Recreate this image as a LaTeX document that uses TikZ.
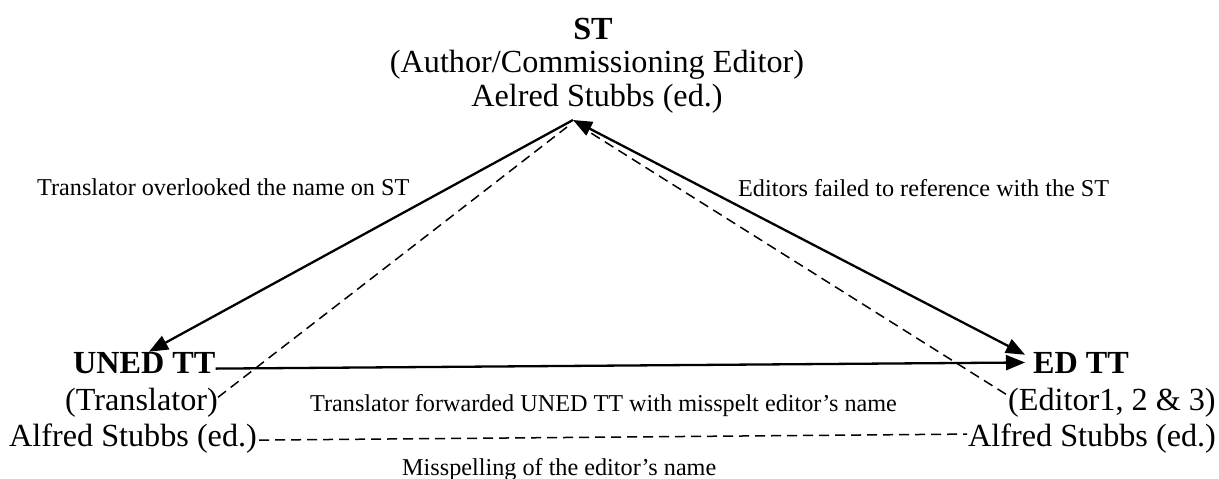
\documentclass[tikz,border=0pt]{standalone}
\usepackage{fontspec}
\setmainfont{Liberation Serif}
\usetikzlibrary{arrows.meta,calc}
\begin{document}
\begin{tikzpicture}[x=1pt,y=-1pt,
  >={Triangle[length=19pt,width=15pt]},
  big/.style={font=\fontsize{32.2}{36}\selectfont, inner sep=0pt, anchor=base},
  bigb/.style={big, font=\fontsize{32.2}{36}\selectfont\bfseries},
  note/.style={font=\fontsize{24.2}{28}\selectfont, inner sep=0pt, anchor=base west},
  link/.style={line width=2.3pt},
  hint/.style={line width=1.5pt, dash pattern=on 10pt off 6pt},
]
\useasboundingbox (0,0) rectangle (1219,479);

% source text
\node[bigb] (st) at (593,39) {ST};
\node[big] (strole) at (597,72) {(Author/Commissioning Editor)};
\node[big] (stname) at (597,106) {Aelred Stubbs (ed.)};
\coordinate (apex) at (573,120);

% unedited translation
\node[bigb,anchor=base west] (uned) at (73,373) {UNED TT};
\node[big,anchor=base west] (unedrole) at (65,410) {(Translator)};
\node[big,anchor=base west] (unedname) at (9,446) {Alfred Stubbs (ed.)};

% edited translation
\node[bigb,anchor=base west] (edtt) at (1033,373) {ED TT};
\node[big,anchor=base west] (edrole) at (1008,410) {(Editor1, 2 \& 3)};
\node[big,anchor=base west] (edname) at (968,446) {Alfred Stubbs (ed.)};

% edge notes
\node[note] (n1) at (37,195) {Translator overlooked the name on ST};
\node[note] (n2) at (738,196) {Editors failed to reference with the ST};
\node[note] (n3) at (310,411) {Translator forwarded UNED TT with misspelt editor’s name};
\node[note] (n4) at (402,475) {Misspelling of the editor’s name};

% solid flows
\draw[link,->] (apex) -- ($(uned.north west)+(76,0)$);
\draw[link,<->] (apex) -- ($(edtt.north west)+(-8,3)$);
\draw[link,->] ($(uned.east)+(0,6)$) -- ($(edtt.west)+(-8,0)$);

% dashed traces of the name
\draw[hint] ($(unedrole.east)+(0,-5)$) -- (567,127);
\draw[hint] ($(edrole.west)+(-2,-8)$) -- (583,128);
\draw[hint] ($(unedname.east)+(2,2)$) -- ($(edname.west)+(-1,-4)$);
\end{tikzpicture}
\end{document}
